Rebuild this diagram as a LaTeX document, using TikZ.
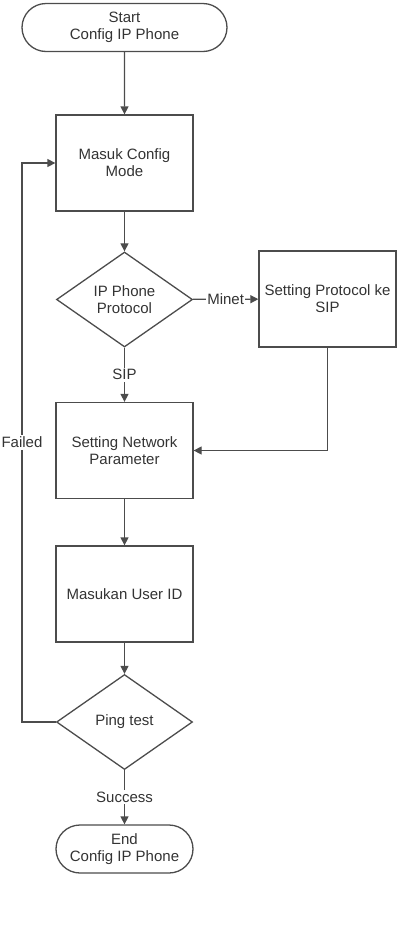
\documentclass[tikz,border=0pt]{standalone}
\usepackage{fontspec}
\setmainfont{Liberation Sans}
\usetikzlibrary{arrows.meta,shapes.geometric,shapes.misc}

\begin{document}
\begin{tikzpicture}
    [ x=1pt, y=-1pt,
      font=\fontsize{15}{17}\selectfont,
      line/.style={draw=black!70, line width=1.3pt},
      flow/.style={line, -{Triangle[length=8pt,width=8pt]}},
      terminal/.style={line, rounded rectangle, minimum height=48pt,
                       inner sep=0pt, align=center, text=black!80},
      process/.style={line, rectangle, minimum width=137pt,
                      minimum height=96pt, align=center, text=black!80},
      decision/.style={line, diamond, minimum width=136pt,
                       minimum height=95pt, inner sep=0pt, align=center,
                       text=black!80},
      edgelabel/.style={fill=white, inner sep=1.5pt, text=black!80},
    ]
    \useasboundingbox (0, 0) rectangle (404, 927);

    \node[terminal, minimum width=205pt] (start) at (124.5, 27.5)
        {Start\\Config IP Phone};
    \node[process] (masuk) at (124.5, 163) {Masuk Config\\Mode};
    \node[decision] (proto) at (124.5, 299.5) {IP Phone\\Protocol};
    \node[process] (setproto) at (327.5, 299) {Setting Protocol ke\\SIP};
    \node[process] (network) at (124.5, 450.5) {Setting Network\\Parameter};
    \node[process] (userid) at (124.5, 594) {Masukan User ID};
    \node[decision] (ping) at (124.5, 722) {Ping test};
    \node[terminal, minimum width=137pt] (end) at (124.5, 849)
        {End\\Config IP Phone};

    \coordinate (failbend) at (22, 722);
    \coordinate (failtop) at (22, 163);

    \draw[flow] (start) -- (masuk);
    \draw[flow] (masuk) -- (proto);
    \draw[flow] (proto) -- node[edgelabel] {SIP} (network);
    \draw[flow] (proto) -- node[edgelabel] {Minet} (setproto);
    \draw[flow] (setproto.south) |- (network.east);
    \draw[flow] (network) -- (userid);
    \draw[flow] (userid) -- (ping);
    \draw[flow] (ping) -- node[edgelabel] {Success} (end);
    \draw[flow] (ping.west) -- (failbend)
        -- node[edgelabel] {Failed} (failtop) -- (masuk.west);
\end{tikzpicture}
\end{document}
